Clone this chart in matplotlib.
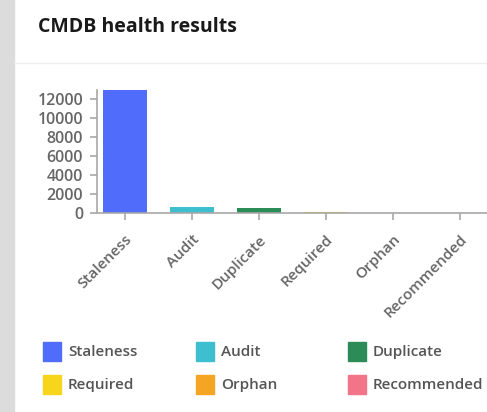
import matplotlib.pyplot as plt
from matplotlib.patches import Rectangle
from matplotlib.lines import Line2D

# data
categories = ["Staleness", "Audit", "Duplicate", "Required", "Orphan", "Recommended"]
counts = [13000, 600, 490, 60, 0, 0]
colors = ["#4f6cfb", "#3dbfcf", "#2b8c57", "#f7d51d", "#f5a524", "#f27488"]
yticks = [0, 2000, 4000, 6000, 8000, 10000, 12000]

W, H = 487, 412
plt.rcParams['font.family'] = ['Open Sans', 'DejaVu Sans']

fig = plt.figure(figsize=(W / 100, H / 100), dpi=100)
fig.patch.set_facecolor("white")

def px(x, y):
    # pixel coords (from top-left) -> figure fraction
    return x / W, 1 - y / H

# grey strip on the left and header divider
fig.patches.append(Rectangle((0, 0), 14 / W, 1, transform=fig.transFigure,
                             color="#dcdcdc", zorder=0))
fig.lines.append(Line2D([14 / W, 1], [1 - 63 / H] * 2, transform=fig.transFigure,
                        color="#ececec", lw=1))

fig.text(*px(38, 27), "CMDB health results", fontsize=14, fontweight="bold",
         color="#1a1a1a", va="center", ha="left")

# plot area
ax = fig.add_axes([97 / W, 1 - 213 / H, 390 / W, 123 / H])
x = list(range(len(categories)))
ax.bar(x, counts, width=0.66, color=colors, zorder=2)
ax.set_xlim(-0.418, 5.403)
ax.set_ylim(0, 13000)
ax.set_yticks(yticks)
ax.set_yticklabels([str(v) for v in yticks])
ax.set_xticks(x)
ax.set_xticklabels(categories, rotation=45, ha="right", rotation_mode="anchor")

for s in ["top", "right"]:
    ax.spines[s].set_visible(False)
for s in ["left", "bottom"]:
    ax.spines[s].set_color("#a8a8a8")
    ax.spines[s].set_linewidth(1.2)
ax.tick_params(axis="both", colors="#a8a8a8", length=5, width=1.2,
               labelcolor="#666666", labelsize=11)
ax.tick_params(axis="y", pad=5, labelsize=11.5)
ax.tick_params(axis="x", pad=9)
for lab in ax.get_xticklabels() + ax.get_yticklabels():
    lab.set_fontweight("semibold")

# legend, 3 columns x 2 rows
col_x = [43, 196, 348]
row_y = [352, 385]
for i, (name, c) in enumerate(zip(categories, colors)):
    cx = col_x[i % 3]
    cy = row_y[i // 3]
    fig.patches.append(Rectangle(px(cx, cy + 9), 18 / W, 19 / H,
                                 transform=fig.transFigure, color=c))
    fig.text(*px(cx + 25, cy), name, fontsize=11, fontweight="semibold",
             color="#555555", va="center", ha="left")

fig.savefig("out.png", dpi=100)
